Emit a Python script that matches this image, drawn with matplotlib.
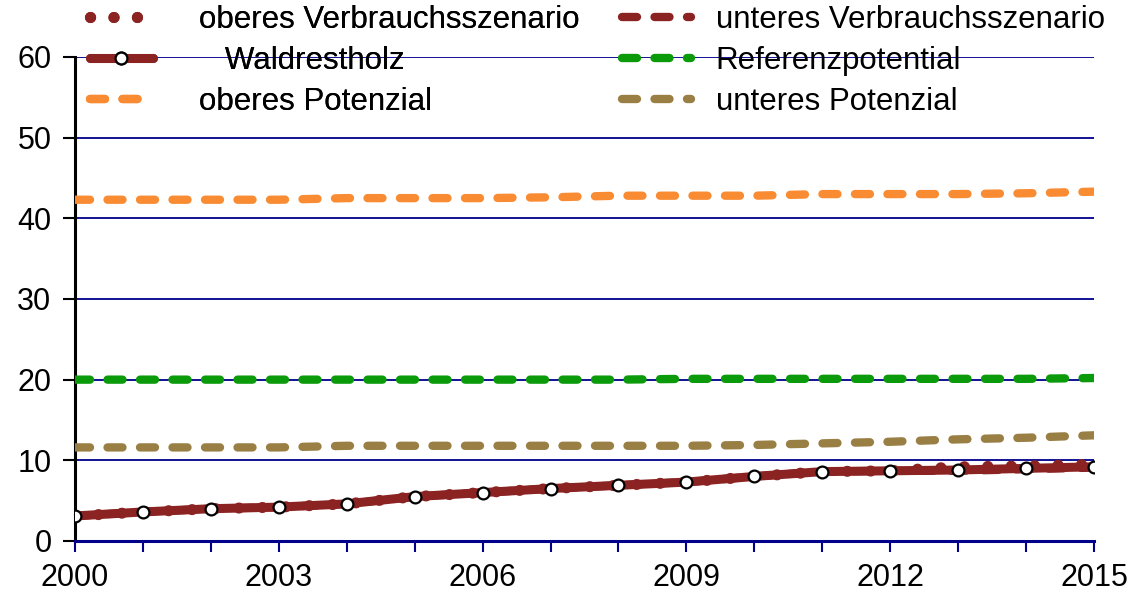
import matplotlib
matplotlib.use("Agg")
import matplotlib.pyplot as plt
import numpy as np

plt.rcParams['font.family'] = ['Liberation Sans', 'DejaVu Sans']

years = list(range(2000, 2016))
waldrestholz = [3.1, 3.6, 4.0, 4.2, 4.6, 5.5, 6.0, 6.5, 6.9, 7.3, 8.0, 8.6, 8.7, 8.8, 9.0, 9.2]
oberes_verbrauch = [3.1, 3.6, 4.0, 4.2, 4.6, 5.5, 6.0, 6.5, 6.9, 7.3, 8.0, 8.6, 8.7, 9.2, 9.3, 9.5]
unteres_verbrauch = [3.1, 3.6, 4.0, 4.2, 4.6, 5.5, 6.0, 6.5, 6.9, 7.3, 8.0, 8.6, 8.7, 8.7, 8.9, 9.1]
oberes_potenzial = [42.3, 42.3, 42.3, 42.3, 42.5, 42.5, 42.5, 42.6, 42.8, 42.8, 42.8, 43.0, 43.0, 43.0, 43.1, 43.3]
referenzpotential = [20.0, 20.0, 20.0, 20.0, 20.0, 20.0, 20.0, 20.0, 20.0, 20.1, 20.1, 20.1, 20.1, 20.1, 20.1, 20.2]
unteres_potenzial = [11.6, 11.6, 11.6, 11.6, 11.8, 11.8, 11.8, 11.8, 11.8, 11.8, 11.9, 12.1, 12.3, 12.6, 12.8, 13.1]

DARKRED = '#8B2323'
ORANGE = '#F98B32'
GREEN = '#0A9A0A'
OLIVE = '#9A7F45'
NAVY = '#00008B'

fig = plt.figure(figsize=(11.4, 5.93), dpi=100)
ax = fig.add_axes([0.0658, 0.0877, 0.8938, 0.8163])

LW = 6
dash = (0, (1.8, 2.1))
l_ov, = ax.plot(years, oberes_verbrauch, color=DARKRED, lw=8, ls=(0, (0.01, 2.1)),
                dash_capstyle='round', zorder=4, label='oberes Verbrauchsszenario')
l_uv, = ax.plot(years, unteres_verbrauch, color=DARKRED, lw=LW, ls=dash,
                dash_capstyle='round', zorder=4, label='unteres Verbrauchsszenario')
l_w, = ax.plot(years, waldrestholz, color=DARKRED, lw=6.5, solid_capstyle='round',
               marker='o', markersize=8.5, markerfacecolor='white', markeredgecolor='black',
               markeredgewidth=1.6, zorder=5, label='   Waldrestholz')
l_op, = ax.plot(years, oberes_potenzial, color=ORANGE, lw=LW, ls=dash,
                dash_capstyle='round', zorder=3, label='oberes Potenzial')
l_rp, = ax.plot(years, referenzpotential, color=GREEN, lw=LW, ls=dash,
                dash_capstyle='round', zorder=3, label='Referenzpotential')
l_up, = ax.plot(years, unteres_potenzial, color=OLIVE, lw=LW, ls=dash,
                dash_capstyle='round', zorder=3, label='unteres Potenzial')

ax.set_xlim(2000, 2015)
ax.set_ylim(0, 60)
ax.set_yticks(range(0, 61, 10))
ax.set_xticks(years)
ax.set_xticklabels([str(y) if (y - 2000) % 3 == 0 else '' for y in years])
for y in range(10, 61, 10):
    ax.axhline(y, color=NAVY, lw=1.3, zorder=1)

for s in ['top', 'right']:
    ax.spines[s].set_visible(False)
ax.spines['left'].set_color('black')
ax.spines['left'].set_linewidth(2.2)
ax.spines['bottom'].set_color(NAVY)
ax.spines['bottom'].set_linewidth(2.2)
ax.tick_params(axis='y', colors='black', length=9, width=1.5, labelsize=22, pad=8)
ax.tick_params(axis='x', colors=NAVY, length=8, width=1.5, labelsize=22, labelcolor='black', pad=8)

FS = 22.5
leg1 = fig.legend(handles=[l_ov, l_w, l_op], labels=[l_ov.get_label(), l_w.get_label(), l_op.get_label()],
                  loc='upper left', bbox_to_anchor=(90/1140, 1 - 5/593), frameon=False,
                  fontsize=FS, handlelength=2.0, handletextpad=1.5, labelspacing=0.35,
                  borderpad=0, borderaxespad=0)
leg2 = fig.legend(handles=[l_uv, l_rp, l_up], labels=[l_uv.get_label(), l_rp.get_label(), l_up.get_label()],
                  loc='upper left', bbox_to_anchor=(622/1140, 1 - 5/593), frameon=False,
                  fontsize=FS, handlelength=2.2, handletextpad=0.8, labelspacing=0.35,
                  borderpad=0, borderaxespad=0)
fig.add_artist(leg1)

fig.savefig('out.png', dpi=100, facecolor='white')
